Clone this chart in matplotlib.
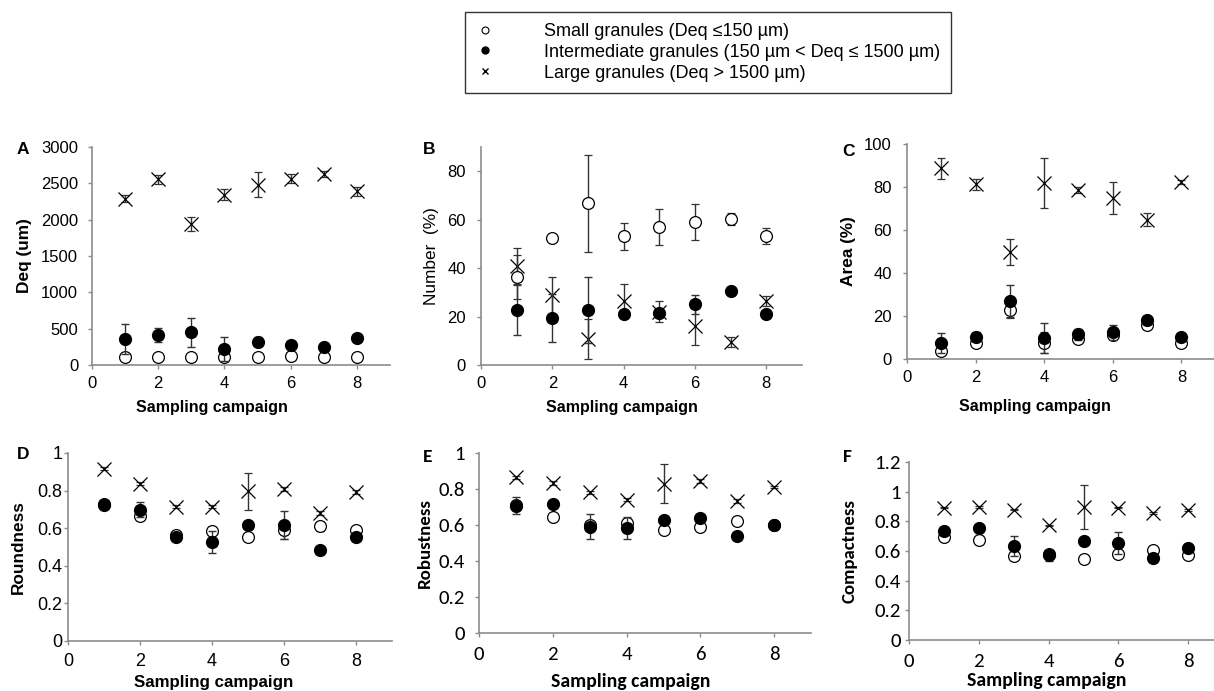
import matplotlib
matplotlib.use("Agg")
import matplotlib.pyplot as plt
from matplotlib import font_manager
from matplotlib.lines import Line2D

plt.rcParams['font.family'] = ['Liberation Sans', 'DejaVu Sans']

# Calibri look-alike for panels E and F if there is one
installed = set(f.name for f in font_manager.fontManager.ttflist)
calibri_like = "Carlito" if "Carlito" in installed else "Lato"

campaign = [1, 2, 3, 4, 5, 6, 7, 8]

# A - Deq (um)
deq_small = [115, 115, 115, 115, 115, 120, 115, 115]
deq_small_err = [20, 20, 20, 20, 20, 20, 20, 20]
deq_inter = [353, 417, 449, 224, 320, 275, 243, 366]
deq_inter_err = [205, 95, 200, 165, 60, 20, 20, 20]
deq_large = [2290, 2556, 1937, 2345, 2482, 2565, 2629, 2391]
deq_large_err = [50, 60, 100, 80, 175, 60, 40, 60]

# B - Number (%)
num_small = [36.3, 52.5, 66.7, 53.2, 56.9, 59.1, 60.1, 53.3]
num_small_err = [9, 1.5, 20, 5.6, 7.5, 7.3, 2.5, 3.4]
num_inter = [22.7, 19.4, 22.7, 20.9, 21.3, 25.0, 30.7, 20.9]
num_inter_err = [10.5, 10, 13.7, 1, 1, 3.9, 1, 1.5]
num_large = [41, 28.7, 10.7, 26.4, 22.0, 16.1, 9.5, 26.4]
num_large_err = [7.5, 7.7, 8.4, 6.9, 4.3, 8, 2, 2]

# C - Area (%)
area_small = [3.9, 7.3, 22.6, 7.6, 9.3, 11.3, 16.0, 7.6]
area_small_err = [2, 1, 3.5, 5, 1, 2, 1, 1]
area_inter = [7.3, 10.4, 26.8, 9.8, 11.5, 12.4, 18.3, 10.1]
area_inter_err = [4.6, 2, 7.4, 7, 2.5, 3.5, 1.5, 1]
area_large = [88.7, 81.3, 49.8, 81.7, 78.6, 74.8, 64.7, 82.2]
area_large_err = [5, 2.5, 6, 11.6, 1.5, 7.4, 3, 1]

# D - Roundness
round_small = [0.73, 0.667, 0.562, 0.587, 0.555, 0.589, 0.61, 0.589]
round_small_err = [0.01, 0.02, 0.01, 0.02, 0.015, 0.045, 0.025, 0.01]
round_inter = [0.725, 0.699, 0.553, 0.527, 0.617, 0.615, 0.484, 0.553]
round_inter_err = [0.01, 0.04, 0.01, 0.058, 0.01, 0.075, 0.005, 0.005]
round_large = [0.917, 0.837, 0.715, 0.715, 0.796, 0.809, 0.681, 0.793]
round_large_err = [0.01, 0.01, 0.01, 0.01, 0.1, 0.01, 0.01, 0.01]

# E - Robustness
rob_small = [0.71, 0.644, 0.6, 0.611, 0.57, 0.589, 0.622, 0.6]
rob_small_err = [0.01, 0.015, 0.01, 0.01, 0.02, 0.01, 0.02, 0.01]
rob_inter = [0.707, 0.715, 0.591, 0.583, 0.63, 0.637, 0.537, 0.598]
rob_inter_err = [0.046, 0.01, 0.07, 0.06, 0.01, 0.02, 0.005, 0.005]
rob_large = [0.865, 0.833, 0.781, 0.741, 0.83, 0.843, 0.735, 0.811]
rob_large_err = [0.01, 0.01, 0.01, 0.01, 0.107, 0.01, 0.01, 0.005]

# F - Compactness
comp_small = [0.695, 0.671, 0.565, 0.58, 0.549, 0.583, 0.61, 0.572]
comp_small_err = [0.01, 0.02, 0.025, 0.01, 0.015, 0.015, 0.015, 0.015]
comp_inter = [0.733, 0.758, 0.633, 0.570, 0.668, 0.655, 0.554, 0.621]
comp_inter_err = [0.01, 0.01, 0.067, 0.04, 0.01, 0.074, 0.005, 0.01]
comp_large = [0.893, 0.897, 0.879, 0.772, 0.897, 0.893, 0.857, 0.875]
comp_large_err = [0.005, 0.005, 0.005, 0.005, 0.146, 0.005, 0.005, 0.005]

legend_labels = ["Small granules (Deq \u2264150 \u00b5m)",
                 "Intermediate granules (150 \u00b5m < Deq \u2264 1500 \u00b5m)",
                 "Large granules (Deq > 1500 \u00b5m)"]

fig = plt.figure(figsize=(12.14, 6.91), dpi=100)

# letter, ylabel, bold, axes rect, ylim, yticks, data, font,
# (tick, ylabel, xlabel, letter) sizes, letter pos, ylabel x, xlabel (x, y), ytick pad, xtick pad
panels = [
    ("A", "Deq (um)", True, [0.0758, 0.4718, 0.2455, 0.3155], (0, 3000),
     [0, 500, 1000, 1500, 2000, 2500, 3000],
     (deq_small, deq_small_err, deq_inter, deq_inter_err, deq_large, deq_large_err),
     "Liberation Sans", (12, 12.4, 11.5, 12.5), (0.014, 0.783), -0.225, (0.403, -0.193), 7, 5),
    ("B", "Number  (%)", False, [0.3962, 0.4718, 0.2644, 0.3155], (0, 90),
     [0, 20, 40, 60, 80],
     (num_small, num_small_err, num_inter, num_inter_err, num_large, num_large_err),
     "Liberation Sans", (12, 12.4, 11.5, 12.5), (0.348, 0.783), -0.153, (0.439, -0.193), 8, 5),
    ("C", "Area (%)", True, [0.7471, 0.4805, 0.2543, 0.3111], (0, 100),
     [0, 20, 40, 60, 80, 100],
     (area_small, area_small_err, area_inter, area_inter_err, area_large, area_large_err),
     "Liberation Sans", (12, 12.4, 11.5, 12.5), (0.694, 0.781), -0.191, (0.414, -0.223), 8, 5),
    ("D", "Roundness", True, [0.0560, 0.0724, 0.2669, 0.2721], (0, 1),
     [0, 0.2, 0.4, 0.6, 0.8, 1],
     (round_small, round_small_err, round_inter, round_inter_err, round_large, round_large_err),
     "Liberation Sans", (13, 12.4, 12.2, 12.5), (0.014, 0.342), -0.154, (0.451, -0.223), 1, 6),
    ("E", "Robustness", True, [0.3946, 0.0839, 0.2735, 0.2605], (0, 1),
     [0, 0.2, 0.4, 0.6, 0.8, 1],
     (rob_small, rob_small_err, rob_inter, rob_inter_err, rob_large, rob_large_err),
     calibri_like, (15, 13.6, 14.2, 14), (0.348, 0.339), -0.163, (0.456, -0.272), 7, 6),
    ("F", "Compactness", True, [0.7488, 0.0738, 0.2587, 0.2576], (0, 1.2),
     [0, 0.2, 0.4, 0.6, 0.8, 1, 1.2],
     (comp_small, comp_small_err, comp_inter, comp_inter_err, comp_large, comp_large_err),
     calibri_like, (15, 13.6, 14.2, 14), (0.694, 0.339), -0.188, (0.439, -0.230), 3, 6),
]

for (letter, ylabel, bold, rect, ylim, yticks, data, font, sizes,
     lpos, ylx, xlpos, ypad, xpad) in panels:
    tsize, ysize, xsize, lsize = sizes
    ax = fig.add_axes(rect)
    s, se, m, me, l, le = data
    ax.errorbar(campaign, l, yerr=le, fmt="x", color="black", ms=10, mew=0.9,
                ecolor="#333333", elinewidth=1, capsize=3, capthick=1, zorder=3)
    ax.errorbar(campaign, s, yerr=se, fmt="o", mfc="white", mec="black", ms=8.5, mew=0.9,
                ecolor="#333333", elinewidth=1, capsize=3, capthick=1, zorder=4)
    ax.errorbar(campaign, m, yerr=me, fmt="o", mfc="black", mec="black", ms=8.5,
                ecolor="#333333", elinewidth=1, capsize=3, capthick=1, zorder=5)
    ax.set_xlim(0, 9)
    ax.set_ylim(*ylim)
    ax.set_xticks([0, 2, 4, 6, 8])
    ax.set_yticks(yticks)
    ax.set_yticklabels([("%g" % v) for v in yticks], family=font, fontsize=tsize)
    ax.set_xticklabels(["0", "2", "4", "6", "8"], family=font, fontsize=tsize)
    for side in ["top", "right"]:
        ax.spines[side].set_visible(False)
    for side in ["left", "bottom"]:
        ax.spines[side].set_color("#8c8c8c")
        ax.spines[side].set_linewidth(1.2)
    ax.tick_params(colors="#8c8c8c", labelcolor="black", length=3, width=1)
    ax.tick_params(axis="y", pad=ypad)
    ax.tick_params(axis="x", pad=xpad)
    ax.set_ylabel(ylabel, family=font, fontsize=ysize,
                  fontweight="bold" if bold else "normal", va="center")
    ax.yaxis.set_label_coords(ylx, 0.5)
    ax.set_xlabel("Sampling campaign", family=font, fontsize=xsize,
                  fontweight="bold", va="center")
    ax.xaxis.set_label_coords(xlpos[0], xlpos[1])
    ax.patch.set_alpha(0)
    fig.text(lpos[0], lpos[1], letter, family=font, fontsize=lsize, fontweight="bold",
             ha="left", va="center")

handles = [
    Line2D([], [], ls="none", marker="o", mfc="white", mec="black", ms=5, mew=0.8),
    Line2D([], [], ls="none", marker="o", mfc="black", mec="black", ms=5),
    Line2D([], [], ls="none", marker="x", color="black", ms=5, mew=1.0),
]
leg = fig.legend(handles, legend_labels, loc="upper left",
                 bbox_to_anchor=(465 / 1214, 1 - 12 / 691), borderaxespad=0,
                 frameon=True, fancybox=False, edgecolor="black",
                 handletextpad=2.8, labelspacing=0.22, borderpad=0.6,
                 handlelength=1.0,
                 prop={"family": "Liberation Sans", "size": 13})
leg.get_frame().set_linewidth(1)

fig.savefig("out.png", dpi=100)
